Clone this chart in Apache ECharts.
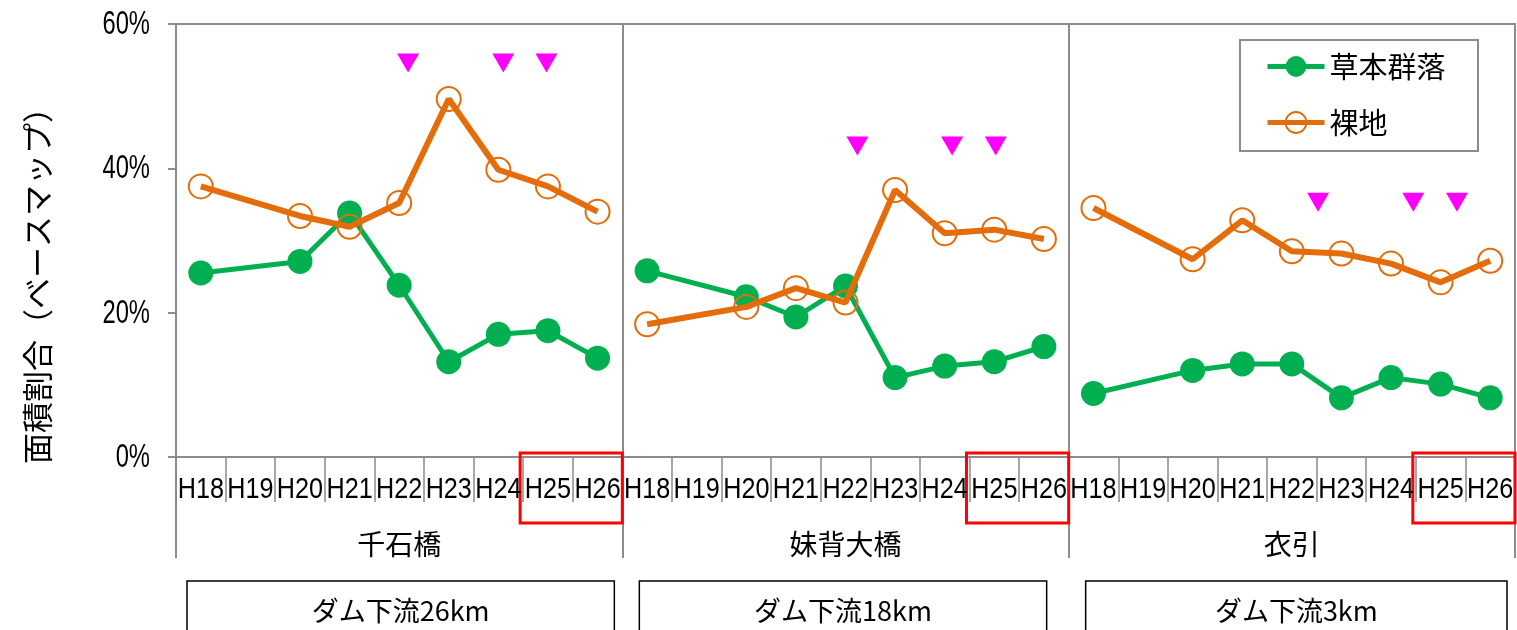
<!DOCTYPE html>
<html>
<head>
<meta charset="utf-8">
<script src="https://cdn.jsdelivr.net/npm/echarts@6/dist/echarts.min.js"></script>
<style>
  html, body { margin: 0; padding: 0; background: #ffffff; }
  #chart { width: 1517px; height: 630px; }
</style>
</head>
<body>
<div id="chart"></div>
<script>
// Survey years shown under each site
const years = ['H18', 'H19', 'H20', 'H21', 'H22', 'H23', 'H24', 'H25', 'H26'];
// Survey sites and their distance below the dam
const sites = ['千石橋', '妹背大橋', '衣引'];
const distances = ['ダム下流26km', 'ダム下流18km', 'ダム下流3km'];
const yTicks = [0, 20, 40, 60];

// Area share (%) of herbaceous communities, per site (H19 not surveyed)
const herbSenGokuBashi = [25.5, null, 27.1, 33.8, 23.8, 13.2, 17.0, 17.5, 13.7];
const herbImoseOhashi  = [25.8, null, 22.2, 19.4, 23.7, 11.0, 12.6, 13.2, 15.3];
const herbKinubiki     = [8.8,  null, 12.0, 12.9, 12.9, 8.2,  11.0, 10.1, 8.2];

// Area share (%) of bare ground, per site
const bareSenGokuBashi = [37.5, null, 33.4, 31.9, 35.2, 49.6, 39.8, 37.5, 34.0];
const bareImoseOhashi  = [18.4, null, 20.8, 23.4, 21.4, 37.0, 31.0, 31.5, 30.2];
const bareKinubiki     = [34.5, null, 27.4, 32.8, 28.5, 28.2, 26.8, 24.2, 27.2];

// Flood event markers: position along the year axis within each site, and height (%)
const floodPosSenGokuBashi = [4.68, 6.60, 7.47];
const floodPosImoseOhashi  = [4.74, 6.65, 7.53];
const floodPosKinubiki     = [5.03, 6.95, 7.83];
const floodLevel = [54.6, 43.1, 35.3];

const herbBySite = [herbSenGokuBashi, herbImoseOhashi, herbKinubiki];
const bareBySite = [bareSenGokuBashi, bareImoseOhashi, bareKinubiki];
const floodBySite = [floodPosSenGokuBashi, floodPosImoseOhashi, floodPosKinubiki];

const GREEN = '#00B050';
const ORANGE = '#E46C0A';
const MAGENTA = '#FF00FF';
const AXIS_GRAY = '#8C8C8C';
const LATIN = "'Liberation Sans', Arial, sans-serif";
const JP = "'Noto Sans CJK JP', 'Noto Sans', sans-serif";

const n = years.length;
const categories = [];
sites.forEach(() => years.forEach(y => categories.push(y)));

// Place one site's values in its own slice of the shared category axis
function spread(values, siteIndex) {
  const out = new Array(categories.length).fill(null);
  values.forEach((v, i) => { out[siteIndex * n + i] = v; });
  return out;
}

const series = [];
sites.forEach((s, si) => {
  series.push({
    name: '草本群落',
    type: 'line',
    z: 2,
    data: spread(herbBySite[si], si),
    connectNulls: true,
    symbol: 'circle',
    symbolSize: 25,
    lineStyle: { color: GREEN, width: 5 },
    itemStyle: { color: GREEN },
    emphasis: { disabled: true }
  });
});
sites.forEach((s, si) => {
  series.push({
    name: '裸地',
    type: 'line',
    z: 3,
    data: spread(bareBySite[si], si),
    connectNulls: true,
    symbol: 'circle',
    symbolSize: 24,
    lineStyle: { color: ORANGE, width: 6 },
    itemStyle: { color: 'rgba(255,255,255,0)', borderColor: ORANGE, borderWidth: 2 },
    emphasis: { disabled: true }
  });
});
// Flood markers (downward triangles)
const floodPoints = [];
floodBySite.forEach((arr, si) => arr.forEach(p => floodPoints.push([si * n + p, floodLevel[si]])));
series.push({
  name: 'flood',
  type: 'scatter',
  xAxisIndex: 2,
  z: 4,
  data: floodPoints,
  symbol: 'triangle',
  symbolRotate: 180,
  symbolSize: [22, 19],
  itemStyle: { color: MAGENTA, opacity: 1 },
  emphasis: { disabled: true }
});

const chart = echarts.init(document.getElementById('chart'), null, { renderer: 'canvas' });

const option = {
  animation: false,
  backgroundColor: '#ffffff',
  grid: {
    left: 176, right: 2, top: 24, bottom: 173,
    show: true, borderColor: AXIS_GRAY, borderWidth: 2, backgroundColor: 'transparent'
  },
  legend: {
    data: ['草本群落', '裸地'],
    orient: 'vertical',
    left: 1265,
    top: 52,
    padding: 0,
    itemWidth: 57,
    itemHeight: 26,
    itemGap: 27,
    lineStyle: { width: 5 },
    textStyle: { fontFamily: JP, fontSize: 29, color: '#000', lineHeight: 29 },
    selectedMode: false
  },
  xAxis: [
    {
      type: 'category',
      data: categories,
      position: 'bottom',
      boundaryGap: true,
      axisLine: { show: true, lineStyle: { color: AXIS_GRAY, width: 2 } },
      axisTick: { show: true, interval: 0, length: 45, lineStyle: { color: AXIS_GRAY, width: 1.5 } },
      axisLabel: { show: false },
      splitLine: { show: false }
    },
    {
      type: 'category',
      data: sites,
      position: 'bottom',
      boundaryGap: true,
      axisLine: { show: false },
      axisTick: { show: true, interval: 0, length: 101, lineStyle: { color: AXIS_GRAY, width: 2 } },
      axisLabel: { interval: 0, margin: 73, color: '#000', fontFamily: JP, fontSize: 28 },
      splitLine: { show: true, interval: 0, lineStyle: { color: AXIS_GRAY, width: 2 } }
    },
    {
      type: 'value',
      min: 0,
      max: categories.length,
      show: false
    }
  ],
  yAxis: {
    type: 'value',
    min: yTicks[0],
    max: yTicks[yTicks.length - 1],
    interval: 20,
    axisLine: { show: true, lineStyle: { color: AXIS_GRAY, width: 2 } },
    axisTick: { show: true, length: 8, lineStyle: { color: AXIS_GRAY, width: 2 } },
    axisLabel: { show: false },
    splitLine: { show: false }
  },
  series: series
};
chart.setOption(option);

// Tick labels in a condensed face, placed from the axis scales
const graphics = [];
categories.forEach((c, i) => {
  graphics.push({
    type: 'text', z: 11,
    x: chart.convertToPixel({ xAxisIndex: 0 }, i), y: 490,
    scaleX: 0.84,
    style: { text: c, fontFamily: LATIN, fontSize: 30, fill: '#000', align: 'center', verticalAlign: 'middle' }
  });
});
yTicks.forEach(v => {
  graphics.push({
    type: 'text', z: 11,
    x: 150, y: chart.convertToPixel({ yAxisIndex: 0 }, v) + 1,
    scaleX: 0.72,
    style: { text: v + '%', fontFamily: LATIN, fontSize: 33, fill: '#000', align: 'right', verticalAlign: 'middle' }
  });
});

// Highlighted years, site distance boxes, legend frame, axis title
const px = v => chart.convertToPixel({ xAxisIndex: 2 }, v);
const y0 = chart.convertToPixel({ yAxisIndex: 0 }, 0);
sites.forEach((s, si) => {
  const left = px(si * n + 7);
  const right = px(si * n + 9);
  graphics.push({
    type: 'rect', z: 10,
    shape: { x: left - 3, y: y0 - 4, width: right - left + 3, height: 70 },
    style: { fill: 'none', stroke: '#FF0000', lineWidth: 3 }
  });
  const gl = px(si * n);
  const gr = px(si * n + n);
  const boxL = gl + 11 + (si === 0 ? 0 : 6);
  const boxR = gr - 8 - (si === 1 ? 14 : 0);
  graphics.push({
    type: 'rect', z: 10,
    shape: { x: boxL, y: 581, width: boxR - boxL, height: 70 },
    style: { fill: '#fff', stroke: '#000', lineWidth: 1.5 }
  });
  graphics.push({
    type: 'text', z: 11,
    x: (boxL + boxR) / 2, y: 611,
    style: { text: distances[si], fontFamily: JP, fontSize: 27, fill: '#000', align: 'center', verticalAlign: 'middle' }
  });
});
graphics.push({
  type: 'rect', z: 1,
  shape: { x: 1240, y: 40, width: 238, height: 111 },
  style: { fill: '#fff', stroke: AXIS_GRAY, lineWidth: 2 }
});
graphics.push({
  type: 'text', z: 11,
  x: 37, y: 278, rotation: Math.PI / 2,
  style: { text: '面積割合（ベースマップ）', fontFamily: JP, fontSize: 31, fill: '#000', align: 'center', verticalAlign: 'middle' }
});
chart.setOption({ graphic: graphics });
</script>
</body>
</html>
